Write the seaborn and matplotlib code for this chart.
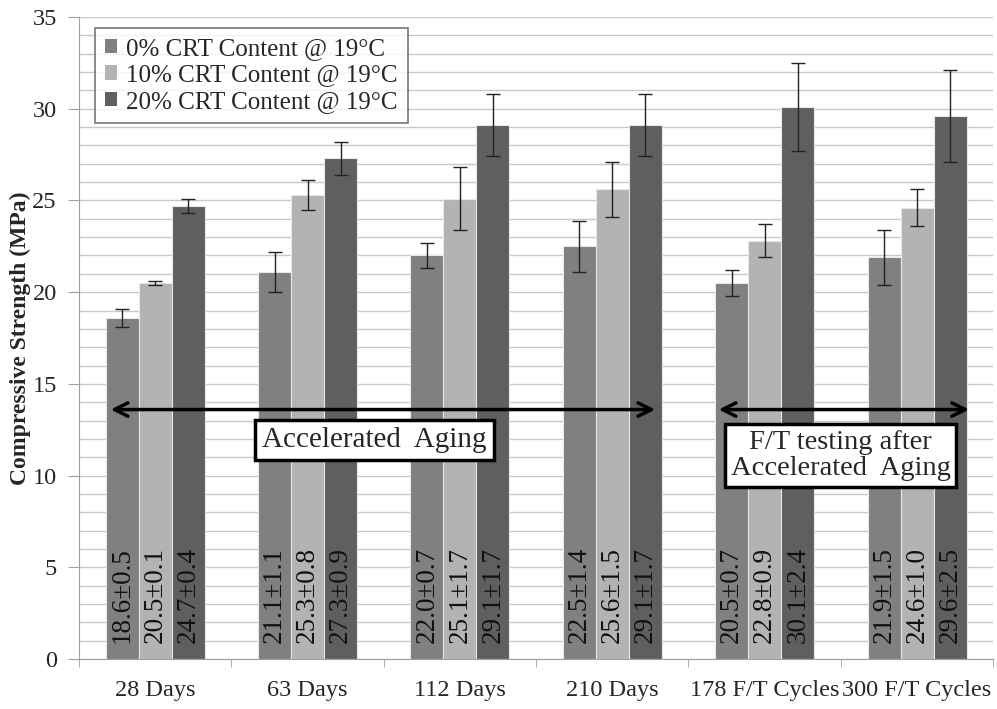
import numpy as np
import pandas as pd
import matplotlib
matplotlib.use("Agg")
import matplotlib.pyplot as plt
import seaborn as sns
from matplotlib.ticker import MultipleLocator

categories = ["28 Days", "63 Days", "112 Days", "210 Days", "178 F/T Cycles", "300 F/T Cycles"]
series = ["0% CRT Content @ 19°C", "10% CRT Content @ 19°C", "20% CRT Content @ 19°C"]
mean_0 = [18.6, 21.1, 22.0, 22.5, 20.5, 21.9]
mean_10 = [20.5, 25.3, 25.1, 25.6, 22.8, 24.6]
mean_20 = [24.7, 27.3, 29.1, 29.1, 30.1, 29.6]
sd_0 = [0.5, 1.1, 0.7, 1.4, 0.7, 1.5]
sd_10 = [0.1, 0.8, 1.7, 1.5, 0.9, 1.0]
sd_20 = [0.4, 0.9, 1.7, 1.7, 2.4, 2.5]
colors = ["#808080", "#b3b3b3", "#5f5f5f"]

means = [mean_0, mean_10, mean_20]
sds = [sd_0, sd_10, sd_20]
rows = []
for s, m in zip(series, means):
    for c, v in zip(categories, m):
        rows.append({"cat": c, "series": s, "val": v})
df = pd.DataFrame(rows)

sns.set_style("white")
plt.rcParams["font.family"] = ["Liberation Serif", "DejaVu Serif"]

fig = plt.figure(figsize=(9.97, 7.09), dpi=100)
ax = fig.add_axes([0.0792, 0.0705, 0.917, 0.9055])

sns.barplot(data=df, x="cat", y="val", hue="series", order=categories,
            hue_order=series, palette=colors, width=0.65, errorbar=None,
            edgecolor="#e8e8e8", linewidth=0.8, saturation=1, ax=ax, zorder=2)

for cont, sd, m in zip(ax.containers, sds, means):
    xs = [b.get_x() + b.get_width() / 2 for b in cont]
    ax.errorbar(xs, m, yerr=sd, fmt="none", ecolor="#222222", elinewidth=1,
                capsize=5, capthick=1, zorder=4)
    for x, v, e in zip(xs, m, sd):
        ax.text(x, 0.85, f"{v:.1f}±{e:.1f}", rotation=90, ha="center", va="bottom",
                fontsize=19.5, color="#111111", zorder=5)

ax.set_ylim(0, 35)
ax.set_xlim(-0.5, 5.5)
ax.yaxis.set_major_locator(MultipleLocator(5))
ax.yaxis.set_minor_locator(MultipleLocator(1))
ax.grid(True, which="both", axis="y", color="#c8c8c8", linewidth=1, zorder=0)
ax.set_axisbelow(True)
for sp in ["top", "right"]:
    ax.spines[sp].set_visible(False)
for sp in ["left", "bottom"]:
    ax.spines[sp].set_color("#a0a0a0")
ax.tick_params(axis="y", which="major", length=8, color="#a0a0a0", labelsize=17.5,
               direction="out", left=True, pad=8)
ax.tick_params(axis="y", which="minor", length=0)
ax.set_xticks(range(len(categories)))
ax.set_xticklabels(categories, fontsize=17.5)
ax.set_xticks(np.arange(-0.5, 6, 1), minor=True)
ax.tick_params(axis="x", which="major", length=0, pad=15)
ax.tick_params(axis="x", which="minor", length=6, color="#a0a0a0", bottom=True)
ax.set_xlabel("")
ax.set_ylabel("Compressive Strength (MPa)", fontsize=17, fontweight="bold", labelpad=1)

# arrows and annotation boxes
ax.annotate("", xy=(-0.31, 13.6), xytext=(3.30, 13.6),
            arrowprops=dict(arrowstyle="<->", color="black", lw=2.5, mutation_scale=24), zorder=6)
ax.annotate("", xy=(3.68, 13.6), xytext=(5.36, 13.6),
            arrowprops=dict(arrowstyle="<->", color="black", lw=2.5, mutation_scale=24), zorder=6)
ax.text(1.44, 11.95, "Accelerated  Aging", ha="center", va="center", fontsize=21, zorder=7,
        bbox=dict(boxstyle="square,pad=0.25", facecolor="white", edgecolor="black", linewidth=2.5))
ax.text(4.50, 11.1, "F/T testing after\nAccelerated  Aging", ha="center", va="center",
        fontsize=20.5, linespacing=1.05, zorder=7,
        bbox=dict(boxstyle="square,pad=0.2", facecolor="white", edgecolor="black", linewidth=2.5))

leg = ax.legend(loc="upper left", bbox_to_anchor=(0.0175, 0.983), fontsize=18, frameon=True,
                fancybox=False, edgecolor="#555555", handlelength=0.5, handleheight=0.5,
                handletextpad=0.35, borderpad=0.4, labelspacing=0.18, title=None,
                borderaxespad=0)
leg.get_frame().set_linewidth(1.2)
for h in leg.legend_handles:
    h.set_edgecolor("none")

fig.savefig("out.png", dpi=100, facecolor="white")
